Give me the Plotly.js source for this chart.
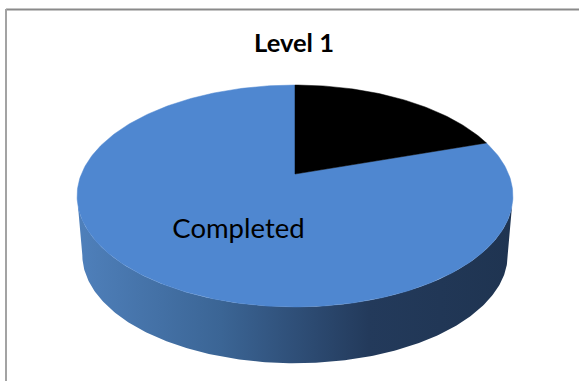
<!DOCTYPE html>
<html>
<head>
<meta charset="utf-8">
<script src="https://cdn.plot.ly/plotly-3.0.1.min.js"></script>
<style>html,body{margin:0;padding:0;background:#fff}#chart{width:579px;height:381px}</style>
</head>
<body>
<div id="chart"></div>
<script>
// Level 1 progress: share of each status
const categories = ["Not completed", "Completed"];
const shares = [20, 80];
const sliceColors = ["#000000", "#4f87d0"];
const chartTitle = "Level 1";
const sliceLabel = "Completed";

// Tilted disc: perspective projection of a unit circle onto the page
const apex = {x: 295, y: 174};
const spanX = 213.6, spanY = 106.6, tilt = 0.198;
const rimScale = 0.976, rimDrop = 59;

function project(angle, scale, drop) {
  const u = Math.sin(angle), v = Math.cos(angle), w = 1 + tilt * v;
  return [apex.x + scale * spanX * u / w,
          apex.y - scale * spanY * v / w + (drop + (1 - scale) * 22)];
}

function wedge(fromShare, toShare) {
  const xs = [apex.x], ys = [apex.y];
  const steps = Math.max(8, Math.round((toShare - fromShare) * 4));
  for (let i = 0; i <= steps; i++) {
    const a = 2 * Math.PI * (fromShare + (toShare - fromShare) * i / steps) / 100;
    const p = project(a, 1, 0);
    xs.push(p[0]); ys.push(p[1]);
  }
  xs.push(apex.x); ys.push(apex.y);
  return {x: xs, y: ys};
}

// Side wall: the widest points of the top rim joined round the front of the lower rim
function sideWall() {
  const xs = [], ys = [];
  const n = 240;
  const side = Math.PI - Math.acos(tilt);
  for (let i = 0; i <= n; i++) {
    const a = side + (2 * Math.PI - 2 * side) * i / n;
    const p = project(a, rimScale, rimDrop);
    xs.push(p[0]); ys.push(p[1]);
  }
  for (let i = n; i >= 0; i--) {
    const a = side + (2 * Math.PI - 2 * side) * i / n;
    const p = project(a, 1, 0);
    xs.push(p[0]); ys.push(p[1]);
  }
  xs.push(xs[0]); ys.push(ys[0]);
  return {x: xs, y: ys};
}

const traces = [];
const wall = sideWall();
traces.push({
  type: "scatter", mode: "lines", x: wall.x, y: wall.y,
  fill: "toself", line: {width: 0}, hoverinfo: "skip",
  fillgradient: {type: "horizontal", colorscale: [
    [0, "#4f80bb"], [0.33, "#3b6595"], [0.5, "#2f4f78"], [0.67, "#233a5b"], [1, "#1f3451"]
  ]}
});

let running = 0;
const wedges = categories.map((name, i) => {
  const w = wedge(running, running + shares[i]);
  running += shares[i];
  return {
    type: "scatter", mode: "lines", name: name, x: w.x, y: w.y,
    fill: "toself", fillcolor: sliceColors[i], line: {width: 0.5, color: sliceColors[i]},
    hoverinfo: "name"
  };
});
traces.push(wedges[1], wedges[0]);

traces.push({
  type: "scatter", mode: "text", x: [238.5], y: [231], text: [sliceLabel],
  textposition: "middle center", hoverinfo: "skip",
  textfont: {family: "Lato, sans-serif", size: 27.5, color: "#000000"}
});

const layout = {
  width: 579, height: 381,
  margin: {l: 0, r: 0, t: 0, b: 0},
  paper_bgcolor: "#ffffff", plot_bgcolor: "#ffffff",
  showlegend: false,
  title: {
    text: "<b>" + chartTitle + "</b>",
    x: 294 / 579, xanchor: "center", y: 1 - 43 / 381, yanchor: "middle",
    font: {family: "Lato, sans-serif", size: 25.5, color: "#000000"}
  },
  xaxis: {range: [0, 579], visible: false, fixedrange: true},
  yaxis: {range: [381, 0], visible: false, fixedrange: true},
  shapes: [
    {type: "line", xref: "x", yref: "y", x0: 6, y0: 9.5, x1: 579, y1: 9.5, line: {color: "#8a8a8a", width: 2}},
    {type: "line", xref: "x", yref: "y", x0: 6, y0: 9, x1: 6, y1: 381, line: {color: "#a3a3a3", width: 2}}
  ]
};

Plotly.newPlot("chart", traces, layout, {displayModeBar: false, staticPlot: true});
</script>
</body>
</html>
